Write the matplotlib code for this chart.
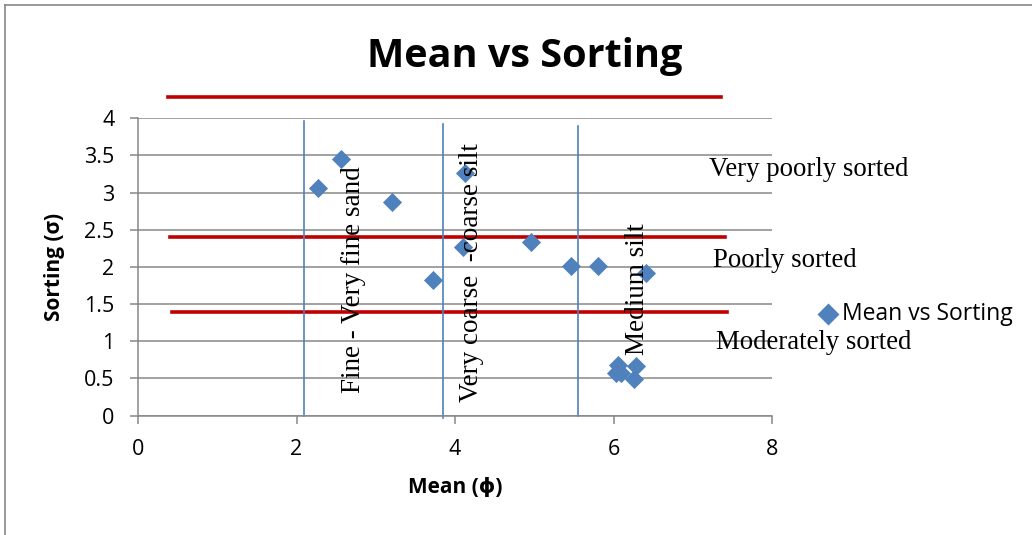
import matplotlib
matplotlib.use("Agg")
import matplotlib.pyplot as plt
from matplotlib.lines import Line2D

# Grain-size statistics: mean (phi) against sorting (sigma)
mean_phi = [2.27, 2.56, 3.20, 3.72, 4.10, 4.12, 4.96, 5.46, 5.80, 6.41,
            6.06, 6.29, 6.03, 6.10, 6.26]
sorting = [3.06, 3.45, 2.87, 1.82, 2.27, 3.26, 2.33, 2.01, 2.01, 1.92,
           0.68, 0.66, 0.57, 0.57, 0.49]

# Sorting class boundaries (horizontal) and grain-size class boundaries (vertical)
sorting_bounds = [4.28, 2.40, 1.39]
sorting_spans = [(0.38, 7.36), (0.40, 7.41), (0.43, 7.43)]
size_bounds = [2.09, 3.85, 5.55]
size_spans = [(0.0, 3.96), (-0.03, 3.93), (0.0, 3.90)]

size_labels = ["Fine - Very fine sand", "Very coarse  -coarse silt", "Medium silt"]
size_label_pos = [(2.80, 0.30), (4.29, 0.18), (6.39, 0.81)]
sorting_labels = ["Very poorly sorted", "Poorly sorted", "Moderately sorted"]
sorting_label_pos = [(7.20, 3.23), (7.25, 2.00), (7.29, 0.90)]

SANS = ["Open Sans", "DejaVu Sans"]
SERIF = "Liberation Serif"
GRID = "#878787"
BLUE = "#4F81BD"
RED = "#C00000"

fig = plt.figure(figsize=(10.32, 5.35), dpi=100)
ax = fig.add_axes([138 / 1032, 1 - 415.5 / 535, (772 - 138) / 1032, (415.5 - 118.3) / 535])

ax.set_xlim(0, 8)
ax.set_ylim(0, 4)
ax.set_xticks([0, 2, 4, 6, 8])
ax.set_yticks([0, 0.5, 1, 1.5, 2, 2.5, 3, 3.5, 4])
ax.set_yticklabels(["0", "0.5", "1", "1.5", "2", "2.5", "3", "3.5", "4"])
ax.grid(axis="y", color=GRID, linewidth=1.1)
ax.set_axisbelow(True)
for side in ("top", "right"):
    ax.spines[side].set_visible(False)
for side in ("left", "bottom"):
    ax.spines[side].set_color(GRID)
    ax.spines[side].set_linewidth(1.1)
ax.tick_params(axis="both", colors=GRID, width=1.1, length=6, labelsize=15.5,
               labelcolor="black", pad=11)
for lbl in ax.get_xticklabels() + ax.get_yticklabels():
    lbl.set_family(SANS)

for y, (x0, x1) in zip(sorting_bounds, sorting_spans):
    ax.plot([x0, x1], [y, y], color=RED, linewidth=2.6, clip_on=False, zorder=2)
for x, (y0, y1) in zip(size_bounds, size_spans):
    ax.plot([x, x], [y0, y1], color=BLUE, linewidth=1.2, clip_on=False, zorder=2)

ax.scatter(mean_phi, sorting, marker="D", s=95, color=BLUE, linewidths=0,
           zorder=3, label="Mean vs Sorting")

for text, (x, y) in zip(size_labels, size_label_pos):
    ax.text(x, y, text, rotation=90, rotation_mode="anchor", ha="left",
            va="baseline", fontsize=19.5, family=SERIF, zorder=4)
for text, (x, y) in zip(sorting_labels, sorting_label_pos):
    ax.text(x, y, text, ha="left", va="baseline", fontsize=19.3, family=SERIF,
            clip_on=False, zorder=4)

ax.set_xlabel("Mean (ϕ)", fontsize=15, fontweight="bold", family=SANS, labelpad=12)
ax.set_ylabel("Sorting (σ)", fontsize=15, fontweight="bold", family=SANS, labelpad=14)

fig.text(525 / 1032, 1 - 57 / 535, "Mean vs Sorting", ha="center", va="center",
         fontsize=28.5, fontweight="bold", family=SANS)

fig.legend(loc="center left", bbox_to_anchor=(820 / 1032, 1 - 314 / 535),
           frameon=False, prop={"family": SANS, "size": 16.5}, handlelength=0.7,
           handletextpad=0.25, borderpad=0, borderaxespad=0, markerscale=1.15)

# chart frame along the top and left edges
fig.add_artist(Line2D([5 / 1032, 5 / 1032], [0, 1 - 5 / 535], color=GRID,
                      linewidth=1.2, transform=fig.transFigure))
fig.add_artist(Line2D([5 / 1032, 1], [1 - 5 / 535, 1 - 5 / 535], color=GRID,
                      linewidth=1.2, transform=fig.transFigure))

fig.savefig("out.png", dpi=100)
